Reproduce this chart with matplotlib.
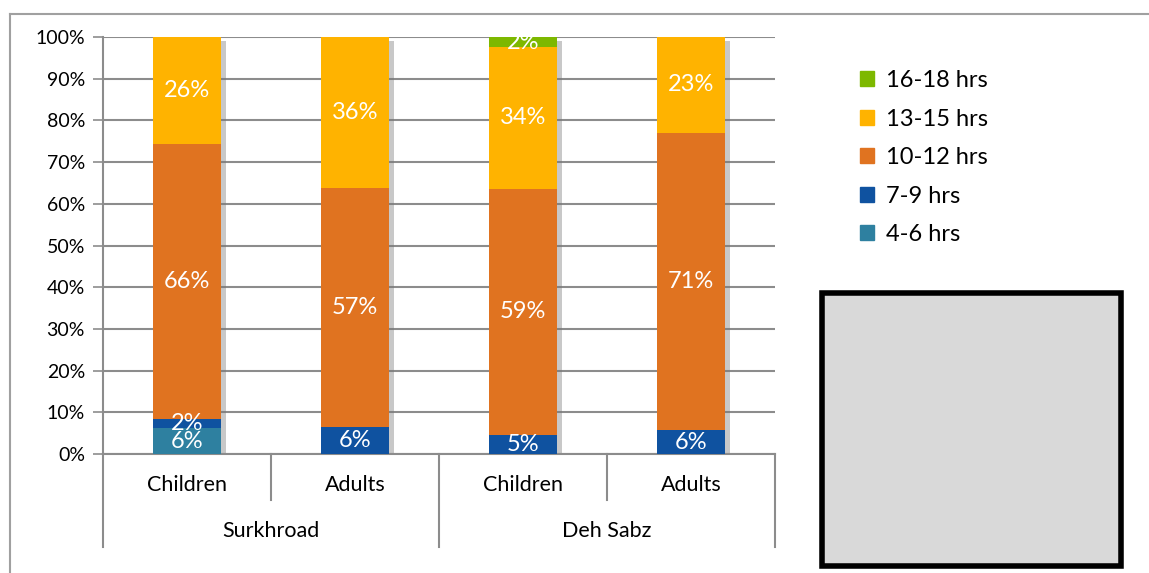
import numpy as np
import matplotlib.pyplot as plt
import matplotlib.patheffects as pe
from matplotlib.patches import Rectangle
from matplotlib.lines import Line2D
import matplotlib.transforms as mtransforms

plt.rcParams['font.family'] = ['Lato', 'DejaVu Sans']

groups = ['Surkhroad', 'Deh Sabz']
categories = ['Children', 'Adults', 'Children', 'Adults']
series = ['4-6 hrs', '7-9 hrs', '10-12 hrs', '13-15 hrs', '16-18 hrs']
hrs_4_6 = [6.2, 0, 0, 0]
hrs_7_9 = [2.2, 6.4, 4.6, 5.7]
hrs_10_12 = [66.0, 57.4, 59.0, 71.3]
hrs_13_15 = [25.6, 36.2, 34.0, 23.0]
hrs_16_18 = [0, 0, 2.4, 0]
colors = ['#2E80A0', '#0F52A0', '#E07320', '#FFB300', '#7DB800']

values = [hrs_4_6, hrs_7_9, hrs_10_12, hrs_13_15, hrs_16_18]

fig = plt.figure(figsize=(11.49, 5.73), dpi=100)
ax = fig.add_axes([0.0896, 0.2077, 0.5849, 0.7277])

x = np.arange(len(categories))
totals = np.sum(values, axis=0)
# soft shadow behind each whole stacked bar
sh = ax.bar(x, totals, width=0.4, color='white', zorder=2)
for b in sh:
    b.set_path_effects([pe.SimplePatchShadow(offset=(4, -3), shadow_rgbFace='#777777', alpha=0.4),
                        pe.Normal()])

bottom = np.zeros(len(categories))
handles = []
for name, vals, c in zip(series, values, colors):
    vals = np.array(vals, dtype=float)
    ax.bar(x, vals, width=0.4, bottom=bottom, color=c, zorder=3, label=name)
    for xi, v, b0 in zip(x, vals, bottom):
        if v > 0:
            ax.text(xi, b0 + v / 2, f"{round(v)}%", ha='center', va='center',
                    color='white', fontsize=17, zorder=5)
    bottom += vals
    handles.append(Rectangle((0, 0), 1, 1, color=c))

ax.set_xlim(-0.5, 3.5)
ax.set_ylim(0, 100)
ax.set_yticks(np.arange(0, 101, 10))
ax.set_yticklabels([f"{t}%" for t in range(0, 101, 10)], fontsize=14)
ax.yaxis.grid(True, color='#8C8C8C', linewidth=1.5, zorder=0)
ax.set_axisbelow(True)
ax.tick_params(axis='y', length=7, width=1.2, color='#8C8C8C', pad=6)
ax.set_xticks([])
for s in ['top', 'right']:
    ax.spines[s].set_visible(False)
for s in ['left', 'bottom']:
    ax.spines[s].set_color('#8C8C8C')
    ax.spines[s].set_linewidth(1.5)

# grouped category axis
trans = mtransforms.blended_transform_factory(ax.transData, ax.transAxes)
for xi, cat in zip(x, categories):
    ax.text(xi, -0.075, cat, transform=trans, ha='center', va='center', fontsize=15.5)
for gi, g in enumerate(groups):
    ax.text(gi * 2 + 0.5, -0.185, g, transform=trans, ha='center', va='center', fontsize=15.5)
for xb in [-0.5, 1.5, 3.5]:
    ax.add_line(Line2D([xb, xb], [0, -0.223], transform=trans, color='#8C8C8C',
                       linewidth=1.5, clip_on=False))
for xb in [0.5, 2.5]:
    ax.add_line(Line2D([xb, xb], [0, -0.110], transform=trans, color='#8C8C8C',
                       linewidth=1.5, clip_on=False))

# legend (top series first)
fig.legend(handles[::-1], series[::-1], loc='upper left', bbox_to_anchor=(0.738, 0.898),
           frameon=False, fontsize=17, handlelength=0.6, handleheight=0.6,
           labelspacing=0.74, handletextpad=0.5, borderpad=0)

# gray box
fig.patches.append(Rectangle((822 / 1149, 1 - 566 / 573), 299 / 1149, 273 / 573,
                             transform=fig.transFigure, facecolor='#D9D9D9',
                             edgecolor='black', linewidth=4))

# outer frame
fig.add_artist(Line2D([10 / 1149, 1], [1 - 14 / 573, 1 - 14 / 573], transform=fig.transFigure,
                      color='#A0A0A0', linewidth=1.5))
fig.add_artist(Line2D([10 / 1149, 10 / 1149], [0, 1 - 14 / 573], transform=fig.transFigure,
                      color='#A0A0A0', linewidth=1.5))

fig.savefig('out.png', dpi=100)
